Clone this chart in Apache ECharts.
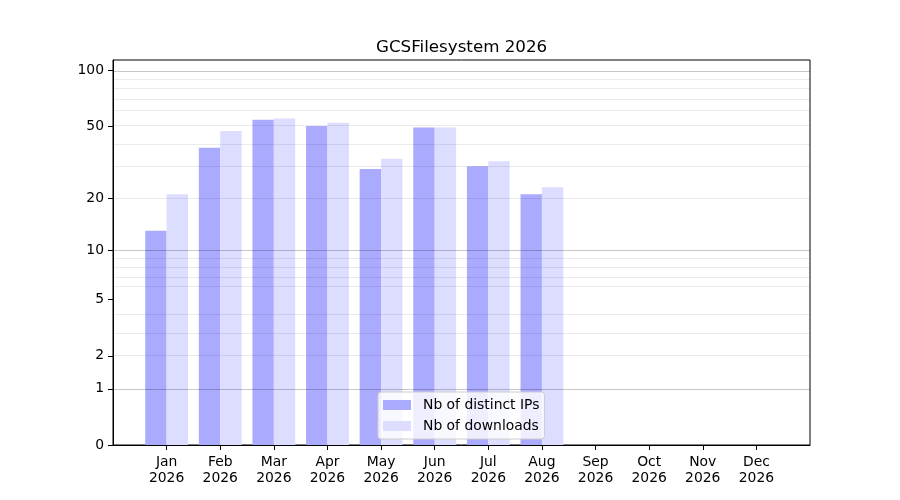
<!DOCTYPE html>
<html>
<head>
<meta charset="utf-8">
<script src="https://cdn.jsdelivr.net/npm/echarts@6/dist/echarts.min.js"></script>
<style>
  html, body { margin: 0; padding: 0; background: #fff; }
  #chart { width: 900px; height: 500px; }
</style>
</head>
<body>
<div id="chart"></div>
<script>
// values
const months = ["Jan", "Feb", "Mar", "Apr", "May", "Jun", "Jul", "Aug", "Sep", "Oct", "Nov", "Dec"];
const year = "2026";
const distinctIps = [13, 38, 54, 50, 29, 49, 30, 21];
const downloads = [21, 47, 55, 52, 33, 49, 32, 23];
const yTicks = [0, 1, 2, 5, 10, 20, 50, 100];
const majorGrid = [1, 10, 100];
const minorGrid = [2, 3, 4, 6, 7, 8, 9, 20, 30, 40, 50, 60, 70, 80, 90];
const yMax = 114;

// y scale is log10(v + 1)
function tr(v) { return Math.log10(v + 1); }

var font = "DejaVu Sans";
var fs = 13.9;
var chart = echarts.init(document.getElementById("chart"));

var gridLines = []
  .concat(minorGrid.map(v => ({ yAxis: tr(v), lineStyle: { color: "rgba(0,0,0,0.08)", width: 1, type: "solid" } })))
  .concat(majorGrid.map(v => ({ yAxis: tr(v), lineStyle: { color: "rgba(0,0,0,0.22)", width: 1, type: "solid" } })));

var monthIdx = months.map((m, i) => i);

chart.setOption({
  animation: false,
  textStyle: { fontFamily: font },
  title: {
    text: "GCSFilesystem " + year,
    left: 371, top: 34,
    textStyle: { fontFamily: font, fontSize: 16.7, fontWeight: "normal", color: "#000" }
  },
  grid: {
    left: 113, right: 90, top: 60, bottom: 55,
    show: true, borderColor: "#000", borderWidth: 1, backgroundColor: "transparent"
  },
  legend: {
    orient: "vertical",
    left: 378, top: 392,
    padding: [6, 5, 6, 5],
    itemGap: 7,
    itemWidth: 28, itemHeight: 10,
    icon: "rect",
    backgroundColor: "rgba(255,255,255,0.8)",
    borderColor: "#cccccc", borderWidth: 1, borderRadius: 3,
    textStyle: { fontFamily: font, fontSize: fs, color: "#000", padding: [0, 0, 0, 7] },
    data: ["Nb of distinct IPs", "Nb of downloads"]
  },
  xAxis: {
    type: "value",
    min: -1, max: 12,
    axisLine: { onZero: false, lineStyle: { color: "#000", width: 1 } },
    axisTick: { customValues: monthIdx, length: 5, lineStyle: { color: "#000" } },
    axisLabel: {
      customValues: monthIdx,
      margin: 9,
      color: "#000", fontFamily: font, fontSize: fs, lineHeight: 16,
      formatter: v => months[Math.round(v)] + "\n" + year
    },
    splitLine: { show: false }
  },
  yAxis: {
    type: "value",
    min: 0, max: tr(yMax),
    axisLine: { show: true, onZero: false, lineStyle: { color: "#000", width: 1 } },
    axisTick: { customValues: yTicks.map(tr), length: 5, lineStyle: { color: "#000" } },
    axisLabel: {
      customValues: yTicks.map(tr),
      margin: 9,
      color: "#000", fontFamily: font, fontSize: fs,
      formatter: v => String(Math.round(Math.pow(10, v) - 1))
    },
    splitLine: { show: false }
  },
  series: [
    {
      name: "Nb of distinct IPs",
      type: "bar",
      barWidth: 21.4,
      barGap: "0%",
      itemStyle: { color: "#aaaaff" },
      data: distinctIps.map((v, i) => [i, tr(v)])
    },
    {
      name: "Nb of downloads",
      type: "bar",
      barWidth: 21.4,
      barGap: "0%",
      itemStyle: { color: "#ddddff" },
      data: downloads.map((v, i) => [i, tr(v)]),
      markLine: {
        silent: true,
        symbol: "none",
        label: { show: false },
        data: gridLines
      }
    }
  ]
});
</script>
</body>
</html>
